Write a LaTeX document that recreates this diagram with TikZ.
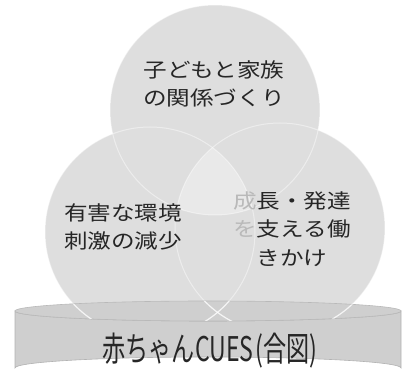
\documentclass[tikz,border=0pt]{standalone}
\usepackage{fontspec}
\newfontfamily\jpw[FakeStretch=1.18]{Noto Sans CJK JP}
\newfontfamily\jpn[FakeStretch=0.68]{Noto Sans CJK JP}
\begin{document}
\begin{tikzpicture}[x=1pt,y=-1pt,
  circfill/.style={fill=gray!26},
  edgeline/.style={draw=white,line width=1pt,opacity=0.45},
  lbl/.style={align=center,text=black!85,font={\jpw\fontsize{20}{28.5}\selectfont},inner sep=0pt},
  cyl/.style={fill=gray!38},
  cyledge/.style={draw=gray!60,line width=0.6pt}]
\useasboundingbox (0,0) rectangle (408,382);
% circles
\coordinate (ct) at (215,110);
\coordinate (cl) at (150,232);
\coordinate (cr) at (280,228);
\fill[circfill] (ct) circle (105);
\fill[circfill] (cl) circle (105);
\fill[circfill] (cr) circle (105);
% lighter centre overlap
\begin{scope}
  \clip (ct) circle (105);
  \clip (cl) circle (105);
  \fill[gray!17] (cr) circle (105);
\end{scope}
\draw[edgeline] (ct) circle (105);
\draw[edgeline] (cl) circle (105);
\draw[edgeline] (cr) circle (105);
% cylinder base
\coordinate (cyc) at (208,311);
\path[cyl,cyledge] (15,311) -- (15,368) arc[start angle=180,end angle=360,x radius=193,y radius=11]
  -- (401,311) arc[start angle=0,end angle=180,x radius=193,y radius=10] -- cycle;
\path[cyl,draw=gray!55,line width=0.6pt] (cyc) ellipse[x radius=193,y radius=10];
\begin{scope}
  \clip (cyc) ellipse[x radius=193,y radius=10];
  \draw[draw=white,line width=1.2pt,opacity=0.8] (cl) circle (105);
  \draw[draw=white,line width=1.2pt,opacity=0.8] (cr) circle (105);
\end{scope}
% labels
\node[lbl] (family) at (214,84) {子どもと家族\\の関係づくり};
\node[lbl] (harm) at (123,227) {有害な環境\\刺激の減少};
\node[lbl] (growth) at (292,229) {{\color{gray!55}成}長・発達\\{\color{gray!55}を}支える働\\きかけ};
\node[inner sep=0pt,text=black!85,font={\jpn\fontsize{34}{40}\selectfont}] (cues) at (210,351) {赤ちゃんCUES\kern2pt(合図)};
\end{tikzpicture}
\end{document}
